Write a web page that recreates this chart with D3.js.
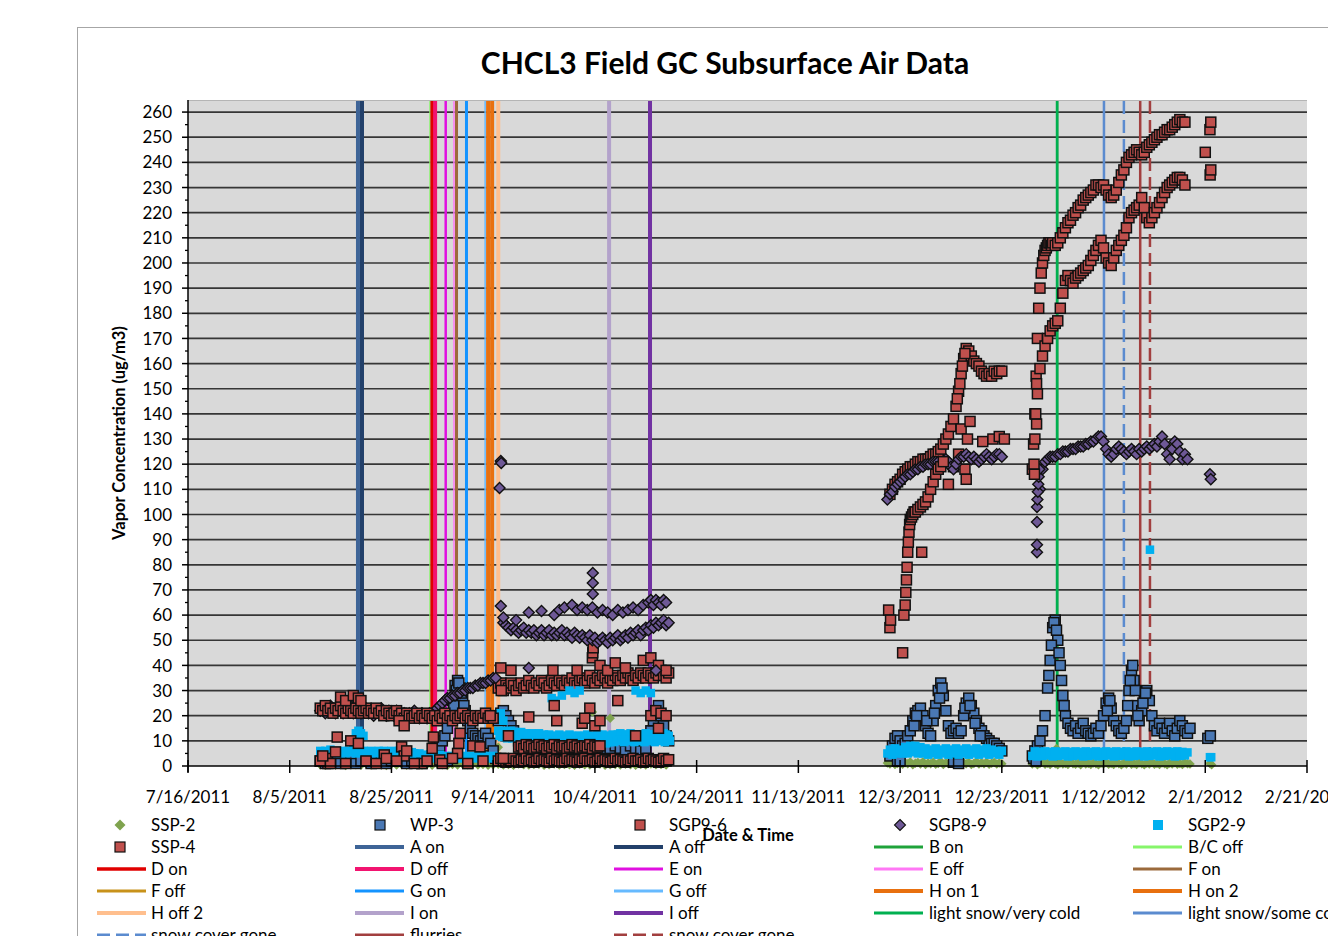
<!DOCTYPE html>
<meta charset="utf-8">
<script src="https://d3js.org/d3.v7.min.js"></script>
<style>
  body { margin: 0; background: #fff; }
  text { font-family: Lato, "Open Sans", sans-serif; fill: #000; }
</style>
<div id="chart"></div>
<script>

// ---------- data ----------
// runs: [start "m/d/yy H", step in hours, values]; points: ["m/d/yy H", value]

// SSP-2
var ssp2Aug = ["8/11/11 0", 24, [0.5,0.3,0.8,0.4,0.6,0.2,0.7,0.5,0.3,0.9,0.4,0.6,0.5,0.2,0.8,0.4,0.6,0.3,0.7,0.5,0.4,0.6,0.3,0.8,0.5,0.2,0.6,0.4,0.7,0.5,0.9,0.4,0.6,0.3,0.5,0.7,0.4,0.6,0.3,0.8,0.5,0.4,0.6,0.7,0.3,0.5,0.8,0.4,0.6,0.5,0.3,0.7,0.5,0.4,0.6,0.8,0.3,0.5,0.6,0.4,0.7,0.5,0.3,0.6,0.4,0.8,0.5,0.6,0.4]];
var ssp2Dec = ["11/30/11 12", 12, [1.2,0.8,1.5,0.6,1.0,1.8,0.7,1.3,0.9,1.6,0.5,1.1,1.4,0.8,1.7,0.6,1.2,0.9,1.5,0.7,1.0,1.8,0.6,1.3,0.9,1.5,0.8,1.1,1.6,0.7,1.2,0.9,1.4,0.6,1.0,1.7,0.8,1.3,0.9,1.5,0.7,1.1,1.4,0.8,1.2,0.9]];
var ssp2Jan = ["12/29/11 0", 12, [0.8,1.2,0.5,1.0,1.4,0.7,1.1,0.6,1.3,0.9,0.5,1.2,0.8,1.0,0.6,1.4,0.9,0.7,1.1,0.5,1.3,0.8,1.0,0.6,1.2,0.9,0.5,1.1,0.8,1.3,0.7,1.0,0.6,1.2,0.9,0.5,1.1,0.8,1.4,0.7,1.0,0.6,1.2,0.9,0.5,1.1,0.8,1.3,0.7,1.0,0.6,1.2,0.9,0.5,1.1,0.8,1.3,0.7,1.0,0.6,1.2,0.9,0.8]];
var ssp2Pts = [["9/15/11 0",7.5],["10/3/11 12",21.5],["10/7/11 0",19],["1/2/12 18",7],["2/1/12 22",1],["2/2/12 6",0.5]];

// WP-3
var wp3Aug = ["8/11/11 0", 24, [2,1,3,2,1,2,3,1,2,2,1,3,2,1,2,3,2,1,2,2,1,2]];
var wp3Sep = ["9/2/11 0", 12, [4,5,7,8,10,12,15,20,26,32,34,31,27,22,18,15,13,12,11,10,12,13,11,9,6,3]];
var wp3Mid = ["9/15/11 0", 12, [18,21,22,20,18,16,14,12,10,9,8]];
var wp3Low = ["9/20/11 0", 24, [8,7,8,6,7,8,7,6,8,7,7,8,6,7,8,7,6,7,8,7,6,8,7,6,7]];
var wp3Oct = ["10/15/11 0", 12, [14,18,22,24,20,16,12,10]];
var wp3Dec = ["12/1/11 0", 12, [4,8,11,12,10,8,9,12,14,18,21,22,23,20,16,13,12,18,24,30,33,28,22,16,13,14,15,13,14,20,25,27,24,21,18,15,14,12,11,10,9,9,8,7,6]];
var wp3Jan = ["12/29/11 0", 12, [4,6,8,10,14,20,31,42,55,58,50,40,28,20,17,15,14,16,13,15,17,14,13,12,13,15,13,16,20,25,27,23,18,16,14,13,15,18,30,38,34,24,18,22,28,30,26,20,16,14,17,15,13,15,17,14,12,15,18,16,14,13,15]];
var wp3Pts = [["9/6/11 6",24],["9/6/11 18",30],["9/7/11 6",33],["9/7/11 18",29],["9/8/11 6",24],["9/4/11 0",3],["9/5/11 0",2],["9/9/11 0",1],["9/12/11 0",4],
  ["12/2/11 12",2],["12/3/11 0",2],["12/13/11 12",1.5],["12/14/11 12",1],["12/10/11 18",27],["12/11/11 6",31],
  ["12/5/11 18",16],["12/6/11 6",20],["12/8/11 6",18],["12/9/11 18",21],["12/15/11 18",23],["12/16/11 18",24],["12/17/11 18",17],["12/18/11 18",12],
  ["12/29/11 6",3],["12/29/11 18",2],["12/30/11 6",5],["1/1/12 6",36],["1/1/12 18",48],["1/2/12 6",57],["1/2/12 18",54],["1/3/12 6",45],["1/3/12 18",34],["1/4/12 6",24],
  ["1/12/12 18",22],["1/13/12 6",26],["1/16/12 18",24],["1/17/12 6",34],["1/17/12 18",40],["1/18/12 6",30],["1/18/12 18",20],["1/19/12 18",25],["1/20/12 6",29],["2/1/12 12",11],["2/2/12 0",12]];

// SGP9-6
var sgp96Sep = ["9/15/11 0", 12, [31,33,30,32,31,33,32,30,32,33,31,32,34,32,31,33,32,34,33,31,32,34,33,32,34,33,32,34,33,35,33,32,34,35,33,34,36,34,33,35,34,36,35,33,35,34,36,35,34,36,35,37,35,34,36,35,37,36,35,37,36,35,37,36,38,36,35,37]];
var sgp96Dec = ["12/1/11 0", 12, [108,110,112,113,114,116,117,118,119,119,120,121,121,122,122,122,123,124,124,125,126,128,130,132,135,138,143,149,156,162,166,165,163,161,160,159,157,156,155,156,155,157,156,157,157]];
var sgp96Rise = ["12/29/11 0", 6, [118,128,140,155,170,182,190,196,200,203,205,206,207,208,208,207]];
var sgp96Jan = ["1/2/12 0", 12, [208,207,208,210,212,214,216,217,219,220,222,223,225,226,227,228,229,231,231,230,231,229,227,226,227,229,232,235,237,240,242,243,244,245,244,243,244,246,247,248,249,250,251,251,252,253,253,254,255,256,257,256,256]];
var sgp96Pts = [["9/15/11 12",39],["9/17/11 12",38],["9/15/11 14",30],["9/25/11 18",38],["9/30/11 12",38],["10/3/11 12",43],["10/3/11 14",45],["10/3/11 16",47],["10/5/11 0",40],["10/6/11 12",38],["10/8/11 0",41],["10/10/11 0",39],["10/13/11 12",42],["10/15/11 0",43],["10/16/11 12",40],["10/18/11 0",38],
  ["12/14/11 6",146],["12/14/11 18",152],["12/15/11 6",159],["12/15/11 18",164],
  ["12/12/11 12",112],["12/13/11 12",119],["12/14/11 12",124],["12/15/11 0",134],["12/15/11 18",118],["12/16/11 0",114],["12/16/11 6",130],["12/16/11 18",137],["12/19/11 6",129],["12/21/11 6",130],["12/22/11 12",131],["12/23/11 12",130],
  ["2/1/12 0",244],["2/1/12 22",253],["2/2/12 2",256],["2/1/12 23",235],["2/2/12 2",237]];

// SGP8-9
var sgp89Aug = ["8/11/11 0", 12, [22,23,21,22,24,22,21,23,22,21,23,22,24,21,22,23,21,22,23,21,22,20,22,21,23,21,20,22,21,20,22,21,20,21,19,21,20,22,20,19,21,20,19,21,20]];
var sgp89Rise = ["9/3/11 0", 12, [23,24,25,26,27,27,28,28,29,29,30,30,31,31,31,32,32,33,33,33,34,34,35,35]];
var sgp89Low = ["9/16/11 0", 12, [57,56,55,54,55,54,53,54,55,53,54,53,54,52,53,54,52,53,54,52,53,52,53,54,52,53,52,51,53,52,51,52,51,50,52,50,51,49,50,51,50,49,51,50,51,52,50,51,52,51,53,52,53,54,52,54,55,54,56,55,57,56,57,58,56,57]];
var sgp89Dec = ["11/30/11 12", 12, [106,108,109,111,112,113,114,115,116,116,117,118,118,119,119,120,120,120,121,121,121,120,121,122,121,119,118,120,122,123,123,124,123,122,123,122,121,122,123,124,123,122,123,124,124,123]];
var sgp89Jan = ["12/30/11 12", 12, [110,118,121,122,123,123,123,124,124,125,125,125,126,126,126,127,127,127,128,128,129,129,130,131,131,129,126,124,123,124,126,127,126,125,124,125,126,125,124,126,125,126,127,126,127,128,127,129,131,128,124,122,126,129,128,125,122,124,122]];
var sgp89Pts = [["9/15/11 6",110.5],["9/15/11 12",121.3],["9/15/11 14",120.5],
  ["9/15/11 12",63.6],["9/16/11 0",59],["9/18/11 12",58],["9/21/11 0",61],["9/23/11 12",61.6],["9/26/11 0",60],["9/27/11 0",62],["9/28/11 0",63],["9/29/11 12",64],["9/30/11 12",62],["10/1/11 12",63],["10/2/11 12",62],["10/3/11 12",63],["10/4/11 12",61],["10/5/11 12",62],["10/6/11 12",61],["10/7/11 12",60],["10/8/11 12",62],["10/9/11 12",61],["10/10/11 12",62],["10/11/11 12",63],["10/12/11 12",62],["10/13/11 12",64],["10/14/11 12",65],["10/15/11 0",66],["10/15/11 12",64],["10/16/11 0",66],["10/16/11 12",65],["10/17/11 0",64],["10/17/11 12",66],["10/18/11 0",65],
  ["10/3/11 14",76.7],["10/3/11 14",72.8],["10/3/11 14",68.4],["9/21/11 0",39],["10/16/11 0",38],
  ["12/29/11 22",85],["12/29/11 22",88],["12/29/11 22",97],["12/29/11 22",103],["12/30/11 0",106],["12/30/11 2",109],["12/30/11 4",112],["12/30/11 6",115],["12/30/11 9",118],
  ["2/1/12 22",116],["2/2/12 2",114]];

// SGP2-9
var sgp29Aug = ["8/11/11 0", 12, [6,5.5,6,5,6.5,5.5,6,5,5.5,6,5,6,5.5,6.5,5,6,5.5,6,5,5.5,6,5.5,5,6,5.5,6,5,5.5,6,5,5.5,6,5,5.5,6,5,5.5,5,4.5,5,4,4.5,3.5,4,3,4,3.5,4.5,3,4,3.5,3,4,3.5,4.5,3,4,3.5,3,4,3.5,3,4,3.5,3,4,3.5,3,4,3.5]];
var sgp29SepHi = ["9/15/11 0", 12, [14,13.5,14,13,13.5,14,13,13.5,13,13.5,12.5,13,12.5,13,12,12.5,13,12,12.5,12,12.5,12,11.5,12,12.5,12,11.5,12,12.5,12,11.5,12,12,11.5,12,12.5,12,11.5,12,12.5,12,12.5,12,11.5,12,12.5,12,12.5,13,12.5,12,12.5,13,12.5,12,12.5,12,12.5,13,12.5,12,12.5,12,12.5,12,13,12.5,12]];
var sgp29SepLo = ["9/15/11 6", 12, [12,11.5,12,11,11.5,11,11.5,11,10.5,11,10.5,11,10,10.5,11,10,10.5,10,10.5,10,9.5,10,10.5,10,9.5,10,10.5,9.5,10,9.5,10,9.5,9,9.5,10,9.5,9,9.5,10,9.5,10,9.5,9,9.5,10,9.5,10,10.5,10,9.5,10,10.5,10,9.5,10,10.5,10,9.5,10,10.5,10,9.5,10,10.5,10,9.5,10,10]];
var sgp29Dec = ["11/30/11 12", 12, [5,6.5,4.5,7,5,6.5,5,7.5,5,8,5.5,8,5,7.5,5,7,4.5,6.5,5,7,4.5,6.5,5,7,4.5,6.5,5,7,4.5,6.5,5,7,4.5,6.5,5,7,4.5,6.5,5,7,4.5,6.5,5,6,4.5,6]];
var sgp29Jan = ["12/29/11 0", 12, [4,5.8,3.8,5.6,4,5.8,4.2,5.6,3.8,5.8,4,5.6,4.2,5.8,3.8,5.6,4,5.8,4.2,5.6,3.8,5.8,4,5.6,4.2,5.8,3.8,5.6,4,5.8,4.2,5.6,3.8,5.8,4,5.6,4.2,5.8,3.8,5.6,4,5.8,4.2,5.6,3.8,5.8,4,5.6,4.2,5.8,3.8,5.6,4,5.8,4.2,5.6,3.8,5.8,4,5.6,4.2,5.4]];
var sgp29Pts = [["8/18/11 0",13],["8/18/11 12",14],["8/19/11 0",13],["8/19/11 12",12],
  ["9/15/11 0",19],["9/15/11 12",21],["9/16/11 0",18],["9/25/11 12",27],["9/26/11 0",26],["9/27/11 12",28],["9/29/11 0",30],["9/30/11 0",29],["10/1/11 0",30],["10/12/11 0",30],["10/13/11 0",29],["10/14/11 0",30],["10/15/11 0",29],
  ["1/21/12 3",86],["2/1/12 22",3.5],["2/2/12 4",3.5]];

// SSP-4
var ssp4Aug = ["8/11/11 0", 12, [23,22,24,22,23,21,23,22,24,22,21,23,22,21,23,22,21,22,23,21,22,21,23,21,22,20,22,21,20,21,22,20,21,19,21,20,19,20,21,19,20,19,21,20,19,20,18,20,19,21,19,20,18,20,19,20,21,19,20,19,18,20,19,20,19,21,19,20,19]];
var ssp4SepBottom = ["9/15/11 0", 12, [2,3,2,1.5,2.5,2,3,2,1.5,2.5,2,3,2,2.5,1.5,2,3,2,2.5,2,1.5,3,2,2.5,2,1.5,2,3,2,2.5,2,1.5,2.5,2,3,2,2,2.5,1.5,2,3,2,2.5,2,1.5,2,3,2,2.5,2,1.5,2.5,2,3,2,2,2.5,1.5,2,3,2,2.5,2,1.5,2,3,2,2.5]];
var ssp4SepBand = ["9/19/11 0", 12, [7.5,8,7,8.5,7.5,8,7,7.5,8.5,7.5,8,7,8,7.5,8.5,7,8,7.5,8,7,7.5,8.5,7.5,8,7,7.5,8,7.5,8.5,7,8,7.5,8]];
var ssp4Jan = ["12/29/11 12", 12, [130,148,158,163,167,170,173,175,176,177,182,188,193,195,193,192,194,195,196,197,198,199,201,203,205,207,209,206,202,200,199,202,205,207,209,211,214,218,220,221,222,223,226,222,218,216,218,220,222,224,226,228,230,231,232,233,234,234,233,231]];
var ssp4Pts = [["8/12/11 9",3],["8/12/11 12",1],["8/13/11 0",1],["8/14/11 0",5.6],["8/14/11 8",11.5],["8/17/11 0",10],["8/18/11 12",9],["8/15/11 0",27.4],["8/16/11 0",26],["8/17/11 12",28],["8/18/11 12",27],["8/19/11 0",26],["8/23/11 14",4.4],["8/27/11 0",7.6],["8/27/11 12",4],["8/28/11 0",6],["8/26/11 12",18],["8/27/11 12",16],["8/31/11 0",1],["9/2/11 0",7],["9/2/11 6",11.5],["9/3/11 12",2.4],["9/7/11 0",5],["9/7/11 6",9],["9/7/11 12",13],["9/10/11 0",8],["9/11/11 10",7.6],["9/13/11 10",20],["8/11/11 0",2],["8/11/11 12",4],["8/16/11 0",1],["8/20/11 0",2],["8/22/11 0",1],["8/24/11 0",3],["8/26/11 0",2],["8/29/11 12",1],["9/1/11 0",2],["9/4/11 0",1],["9/6/11 0",3],["9/9/11 0",1],["9/12/11 0",2],
  ["9/21/11 0",19.5],["9/26/11 0",24],["9/26/11 12",18],["10/3/11 0",23],["10/1/11 12",17],["10/2/11 0",19],["10/4/11 0",16],["10/5/11 0",18],["10/8/11 12",26],["10/15/11 0",20],["10/16/11 0",22],["10/17/11 0",21],["10/18/11 0",20],["9/16/11 0",3],["9/17/11 0",12],["10/12/11 0",12],["10/16/11 12",15],
  ["11/30/11 18",62],["12/1/11 0",55],["12/1/11 3",58],["12/3/11 12",45],["12/3/11 18",60],["12/4/11 0",64],["12/4/11 3",69],["12/4/11 6",74],["12/4/11 9",79],["12/4/11 12",85],["12/4/11 15",89],["12/4/11 18",93],["12/4/11 21",96],["12/5/11 0",98],["12/5/11 6",99],["12/5/11 12",100],["12/5/11 18",101],["12/6/11 0",101],["12/6/11 12",102],["12/7/11 0",103],["12/7/11 6",85],["12/7/11 12",104],["12/8/11 0",105],["12/8/11 12",107],["12/9/11 0",110],["12/9/11 12",113],["12/10/11 0",116],["12/10/11 12",118],["12/11/11 0",119],["12/11/11 12",121],
  ["12/29/11 8",120],["12/29/11 10",116],["12/29/11 20",152],["12/29/11 20",136],["12/29/11 16",140]];

// event lines
var eventNames  = ["A on","A off","B on","B/C off","D on","D off","E on","E off","F on","F off","G on","G off","H on 1","H on 2","H off 2","I on","I off","light snow/very cold","light snow/some cold","snow cover gone","flurries","snow cover gone"];
var eventDates  = ["8/18/11 10","8/19/11 5","1/2/12 21","9/1/11 14","9/2/11 0","9/2/11 14","9/4/11 16","9/6/11 7","9/6/11 19","9/6/11 19","9/8/11 18","9/12/11 10","9/13/11 0","9/13/11 19","9/15/11 0","10/6/11 19","10/14/11 20","1/2/12 21","1/12/12 2","1/16/12 0","1/19/12 5","1/21/12 3"];
var eventColors = ["#3E6497","#22406A","#1FA33A","#86F56A","#E00000","#F21470","#E010E0","#FF78F5","#9B6A3C","#C8921A","#1494FF","#66BAFF","#E8700F","#E8700F","#FFBF8E","#B3A2CB","#7132A2","#00B050","#5B8BCF","#5B8BCF","#A23F3F","#A23F3F"];
var eventWidths = [4,4,2.5,1.5,3.5,4,2.5,1.5,3,2.5,3,1.5,4,4,4,4,4,2.5,2.5,2.5,2.5,2.5];
var eventDashed = [0,0,0,0,0,0,0,0,0,0,0,0,0,0,0,0,0,0,0,1,0,1];
var eventUnder  = ["B on","F off"];

var xTickDays = d3.range(0, 221, 20);
var yTicks = d3.range(0, 261, 10);

// ---------- setup ----------
var W = 1328, H = 936;
var parseT = d3.timeParse("%m/%d/%y %H");
function run(r) { var t0 = parseT(r[0]); return r[2].map(function(v, i) { return {t: d3.timeHour.offset(t0, i * r[1]), v: v}; }); }
function pts(list) { return list.map(function(p) { return {t: parseT(p[0]), v: p[1]}; }); }

var series = [
  {name: "SSP-2", shape: "diamond", fill: "#7FA34E", stroke: "none", size: 9.5,
   data: [].concat(run(ssp2Aug), run(ssp2Dec), run(ssp2Jan), pts(ssp2Pts))},
  {name: "WP-3", shape: "square", fill: "#4A78B4", stroke: "#111", size: 10,
   data: [].concat(run(wp3Aug), run(wp3Sep), run(wp3Mid), run(wp3Low), run(wp3Oct), run(wp3Dec), run(wp3Jan), pts(wp3Pts))},
  {name: "SGP9-6", shape: "square", fill: "#C0504D", stroke: "#111", size: 10,
   data: [].concat(run(sgp96Sep), run(sgp96Dec), run(sgp96Rise), run(sgp96Jan), pts(sgp96Pts))},
  {name: "SGP8-9", shape: "diamond", fill: "#6E5896", stroke: "#111", size: 11,
   data: [].concat(run(sgp89Aug), run(sgp89Rise), run(sgp89Low), run(sgp89Dec), run(sgp89Jan), pts(sgp89Pts))},
  {name: "SGP2-9", shape: "square", fill: "#00B0F0", stroke: "none", size: 8.5,
   data: [].concat(run(sgp29Aug), run(sgp29SepHi), run(sgp29SepLo), run(sgp29Dec), run(sgp29Jan), pts(sgp29Pts))},
  {name: "SSP-4", shape: "square", fill: "#C0504D", stroke: "#111", size: 10,
   data: [].concat(run(ssp4Aug), run(ssp4SepBottom), run(ssp4SepBand), run(ssp4Jan), pts(ssp4Pts))}
];

var events = eventNames.map(function(n, i) {
  return {name: n, t: parseT(eventDates[i]), color: eventColors[i], width: eventWidths[i], dashed: eventDashed[i]};
});

var t0 = new Date(2011, 6, 16);
var x = d3.scaleTime().domain([t0, d3.timeDay.offset(t0, 220)]).range([188, 1307]);
var y = d3.scaleLinear().domain([0, 264.8]).range([766, 100]);

var svg = d3.select("#chart").append("svg")
  .attr("width", W).attr("height", H);

// chart frame
svg.append("rect").attr("x", 77.5).attr("y", 27.5).attr("width", 1400).attr("height", 1000)
  .attr("fill", "#fff").attr("stroke", "#a6a6a6");

// plot area
svg.append("rect").attr("x", 188).attr("y", 100).attr("width", 1307 - 188).attr("height", 666)
  .attr("fill", "#d9d9d9");
svg.append("line").attr("x1", 188).attr("x2", 1307).attr("y1", 100.5).attr("y2", 100.5)
  .attr("stroke", "#b5b5b5");

// gridlines
svg.append("g").selectAll("line").data(yTicks.filter(function(d) { return d > 0; }))
  .join("line")
  .attr("x1", 188).attr("x2", 1307)
  .attr("y1", function(d) { return y(d); }).attr("y2", function(d) { return y(d); })
  .attr("stroke", "#363636").attr("stroke-width", 1.7);

// event lines (hidden ones first)
var evOrder = events.filter(function(e) { return eventUnder.indexOf(e.name) >= 0; })
  .concat(events.filter(function(e) { return eventUnder.indexOf(e.name) < 0; }));
svg.append("g").selectAll("line").data(evOrder).join("line")
  .attr("x1", function(d) { return x(d.t); }).attr("x2", function(d) { return x(d.t); })
  .attr("y1", 101).attr("y2", 766)
  .attr("stroke", function(d) { return d.color; })
  .attr("stroke-width", function(d) { return d.width; })
  .attr("stroke-dasharray", function(d) { return d.dashed ? "13,6" : null; });

// markers
function diamondPath(r) { return "M0," + (-r) + "L" + r + ",0L0," + r + "L" + (-r) + ",0Z"; }
series.forEach(function(s) {
  var g = svg.append("g");
  if (s.shape === "square") {
    g.selectAll("rect").data(s.data).join("rect")
      .attr("x", function(d) { return x(d.t) - s.size / 2; })
      .attr("y", function(d) { return y(d.v) - s.size / 2; })
      .attr("width", s.size).attr("height", s.size)
      .attr("fill", s.fill).attr("stroke", s.stroke).attr("stroke-width", 1.5);
  } else {
    g.selectAll("path").data(s.data).join("path")
      .attr("transform", function(d) { return "translate(" + x(d.t) + "," + y(d.v) + ")"; })
      .attr("d", diamondPath(s.size / 2))
      .attr("fill", s.fill).attr("stroke", s.stroke).attr("stroke-width", 1.4);
  }
});

// y axis
var yAxis = svg.append("g");
yAxis.append("line").attr("x1", 188).attr("x2", 188).attr("y1", 100).attr("y2", 772)
  .attr("stroke", "#000").attr("stroke-width", 1.5);
yAxis.selectAll(".maj").data(yTicks).join("line").attr("class", "maj")
  .attr("x1", 182).attr("x2", 188)
  .attr("y1", function(d) { return y(d); }).attr("y2", function(d) { return y(d); })
  .attr("stroke", "#000").attr("stroke-width", 1.5);
yAxis.selectAll(".min").data(yTicks.slice(0, -1).map(function(d) { return d + 5; })).join("line").attr("class", "min")
  .attr("x1", 185).attr("x2", 188)
  .attr("y1", function(d) { return y(d); }).attr("y2", function(d) { return y(d); })
  .attr("stroke", "#000").attr("stroke-width", 1.3);
yAxis.selectAll("text").data(yTicks).join("text")
  .attr("x", 172).attr("y", function(d) { return y(d); }).attr("dy", "0.36em")
  .attr("text-anchor", "end").style("font-size", "17px")
  .text(function(d) { return d; });

// x axis
var xTicks = xTickDays.map(function(d) { return d3.timeDay.offset(t0, d); });
var xAxis = svg.append("g");
xAxis.append("line").attr("x1", 188).attr("x2", 1307).attr("y1", 766).attr("y2", 766)
  .attr("stroke", "#000").attr("stroke-width", 1.5);
xAxis.selectAll("line.tk").data(xTicks).join("line").attr("class", "tk")
  .attr("x1", function(d) { return x(d); }).attr("x2", function(d) { return x(d); })
  .attr("y1", 760).attr("y2", 773)
  .attr("stroke", "#000").attr("stroke-width", 1.5);
var fmt = d3.timeFormat("%-m/%-d/%Y");
xAxis.selectAll("text").data(xTicks).join("text")
  .attr("x", function(d) { return x(d); }).attr("y", 803)
  .attr("text-anchor", "middle").style("font-size", "17px")
  .text(fmt);

// titles
svg.append("text").attr("x", 725).attr("y", 74).attr("text-anchor", "middle")
  .style("font-size", "30px").style("font-weight", "bold")
  .text("CHCL3 Field GC Subsurface Air Data");
svg.append("text").attr("transform", "translate(125,433) rotate(-90)").attr("text-anchor", "middle")
  .style("font-size", "16.5px").style("font-weight", "bold")
  .text("Vapor Concentration (ug/m3)");

// legend
var legendItems = series.map(function(s) { return {name: s.name, marker: s}; })
  .concat(events.map(function(e) { return {name: e.name, line: e}; }));
var colText = [151, 410, 669, 929, 1188];
var colLine = [97, 355, 614, 874, 1133];
var colMark = [120, 380, 640, 900, 1158];
var leg = svg.append("g");
legendItems.forEach(function(item, i) {
  var c = i % 5, r = Math.floor(i / 5), cy = 825 + r * 22;
  if (item.marker) {
    var s = item.marker;
    if (s.shape === "square") {
      leg.append("rect").attr("x", colMark[c] - 5).attr("y", cy - 5).attr("width", 10).attr("height", 10)
        .attr("fill", s.fill).attr("stroke", s.stroke).attr("stroke-width", 1.2);
    } else {
      leg.append("path").attr("transform", "translate(" + colMark[c] + "," + cy + ")")
        .attr("d", diamondPath(5.5)).attr("fill", s.fill).attr("stroke", s.stroke).attr("stroke-width", 1.1);
    }
  } else {
    var e = item.line;
    leg.append("line").attr("x1", colLine[c]).attr("x2", colLine[c] + 49)
      .attr("y1", cy).attr("y2", cy)
      .attr("stroke", e.color).attr("stroke-width", Math.max(3, Math.min(4, e.width)))
      .attr("stroke-dasharray", e.dashed ? "13,6" : null);
  }
  leg.append("text").attr("x", colText[c]).attr("y", cy + 6)
    .style("font-size", "17px").text(item.name);
});

svg.append("text").attr("x", 748).attr("y", 841).attr("text-anchor", "middle")
  .style("font-size", "16.5px").style("font-weight", "bold")
  .text("Date & Time");

</script>
